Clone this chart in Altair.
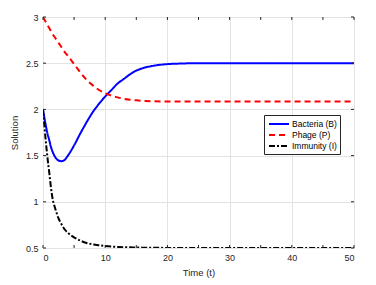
import altair as alt
import pandas as pd

t = [0, 0.25, 0.5, 0.75, 1, 1.25, 1.5, 2, 2.5, 3, 3.5, 4, 5, 6, 7, 8, 9, 10, 11, 12,
     13, 14, 15, 16, 18, 20, 22, 25, 30, 35, 40, 45, 50]
bacteria = [2.0, 1.9, 1.81, 1.73, 1.67, 1.6, 1.55, 1.48, 1.447, 1.44, 1.455, 1.5, 1.61,
            1.74, 1.86, 1.97, 2.06, 2.14, 2.21, 2.28, 2.33, 2.38, 2.42, 2.445, 2.475,
            2.49, 2.496, 2.5, 2.5, 2.5, 2.5, 2.5, 2.5]
phage = [3.0, 2.97, 2.94, 2.91, 2.88, 2.85, 2.82, 2.77, 2.72, 2.67, 2.62, 2.58, 2.49,
         2.4, 2.32, 2.26, 2.21, 2.175, 2.15, 2.13, 2.115, 2.105, 2.098, 2.093, 2.088,
         2.086, 2.085, 2.085, 2.085, 2.085, 2.085, 2.085, 2.085]
immunity = [2.0, 1.8, 1.62, 1.46, 1.32, 1.17, 1.05, 0.92, 0.82, 0.755, 0.7, 0.665,
            0.615, 0.58, 0.555, 0.54, 0.53, 0.522, 0.516, 0.512, 0.509, 0.507, 0.505,
            0.504, 0.502, 0.501, 0.5, 0.5, 0.5, 0.5, 0.5, 0.5, 0.5]
series_names = ["Bacteria (B)", "Phage (P)", "Immunity (I)"]
series_colors = ["#0000ff", "#ff0000", "#000000"]
series_dash = [[1, 0], [6, 4], [6, 2, 2, 2]]
x_ticks = [0, 5, 10, 15, 20, 25, 30, 35, 40, 45, 50]
y_ticks = [0.5, 1, 1.5, 2, 2.5, 3]

rows = []
for name, vals in zip(series_names, [bacteria, phage, immunity]):
    for ti, v in zip(t, vals):
        rows.append({"t": ti, "value": v, "series": name})
df = pd.DataFrame(rows)

W, H = 311, 231
FONT = "Liberation Sans"

xscale = alt.Scale(domain=[0, 50], nice=False)
yscale = alt.Scale(domain=[0.5, 3], nice=False, zero=False)

lines = alt.Chart(df).mark_line(strokeWidth=2, clip=True, interpolate="monotone").encode(
    x=alt.X("t:Q", scale=xscale,
            axis=alt.Axis(title="Time (t)", values=x_ticks, tickSize=0, labelPadding=5,
                          titlePadding=5, gridColor="#e3e3e3", domain=False,
                          labelFontSize=9, titleFontSize=9.5, labelColor="#262626",
                          titleColor="#262626", titleFontWeight="normal", labelFont=FONT,
                          titleFont=FONT)),
    y=alt.Y("value:Q", scale=yscale,
            axis=alt.Axis(title="Solution", values=y_ticks, tickSize=0, labelPadding=5,
                          titlePadding=6, gridColor="#e3e3e3", domain=False,
                          labelFontSize=9, titleFontSize=9.5, labelColor="#262626",
                          titleColor="#262626", titleFontWeight="normal", labelFont=FONT,
                          titleFont=FONT, format="~g")),
    color=alt.Color("series:N", scale=alt.Scale(domain=series_names, range=series_colors),
                    legend=alt.Legend(title=None, orient="none", legendX=221, legendY=98,
                                      symbolType="M-2,0H2", symbolSize=100,
                                      symbolStrokeWidth=2, symbolOffset=6,
                                      labelFontSize=8.5,
                                      labelFont=FONT, labelColor="#000000",
                                      strokeColor="#262626", fillColor="#ffffff",
                                      padding=3, rowPadding=-1, labelOffset=7,
                                      cornerRadius=0)),
    strokeDash=alt.StrokeDash("series:N",
                              scale=alt.Scale(domain=series_names, range=series_dash),
                              legend=None),
)

xt = pd.DataFrame({"x": x_ticks})
yt = pd.DataFrame({"y": y_ticks})
tick_style = dict(color="#262626", strokeWidth=1)
bx = alt.Chart(xt).mark_rule(**tick_style).encode(
    x=alt.X("x:Q", scale=xscale), y=alt.value(H), y2=alt.value(H - 3))
tx = alt.Chart(xt).mark_rule(**tick_style).encode(
    x=alt.X("x:Q", scale=xscale), y=alt.value(0), y2=alt.value(3))
ly = alt.Chart(yt).mark_rule(**tick_style).encode(
    y=alt.Y("y:Q", scale=yscale), x=alt.value(0), x2=alt.value(3))
ry = alt.Chart(yt).mark_rule(**tick_style).encode(
    y=alt.Y("y:Q", scale=yscale), x=alt.value(W), x2=alt.value(W - 3))

chart = alt.layer(lines, bx, tx, ly, ry).properties(
    width=W, height=H,
    autosize=alt.AutoSizeParams(type="none"),
    padding={"left": 35, "top": 9, "right": 14, "bottom": 30},
).configure_view(stroke="#262626", strokeWidth=1).configure(background="#ffffff")

chart.save("out.html", embed_options={"renderer": "svg", "actions": False})
